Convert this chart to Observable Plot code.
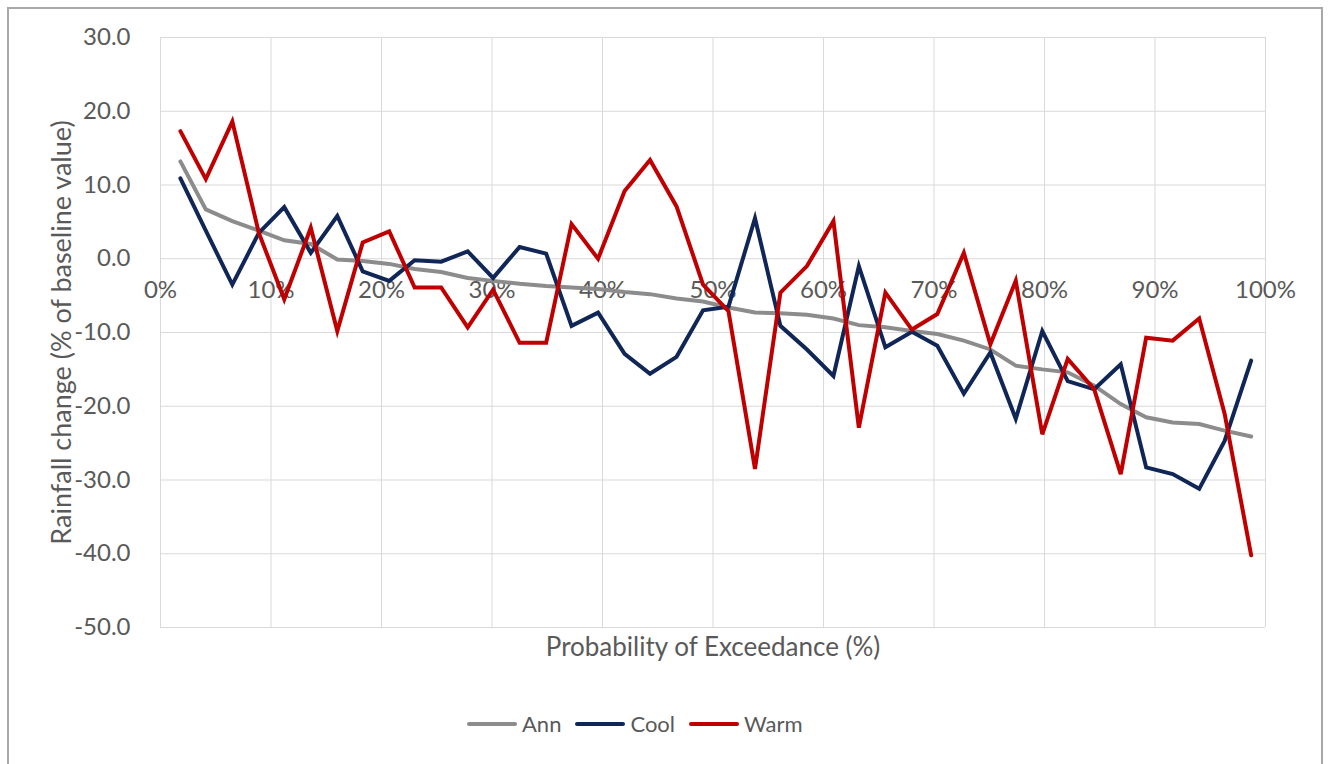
<!DOCTYPE html>
<html>
<head>
<meta charset="utf-8">
<script src="https://cdn.jsdelivr.net/npm/d3@7"></script>
<script src="https://cdn.jsdelivr.net/npm/@observablehq/plot@0.6"></script>
<style>
  html, body { margin: 0; padding: 0; background: #fff; }
  body { width: 1332px; height: 764px; overflow: hidden; position: relative; font-family: Lato, "Open Sans", sans-serif; }
  #frame { position: absolute; left: 7px; top: 7px; width: 1316px; height: 820px; border: 2px solid #a8a8a8; box-sizing: border-box; }
  #chart { position: absolute; left: 0; top: 0; }
  #legend { position: absolute; top: 710px; left: 467px; display: flex; gap: 14px; color: #595959; font-size: 22px; }
  .item { display: flex; align-items: center; }
  .sw { width: 50px; height: 4px; border-radius: 2px; margin-right: 5px; }
</style>
</head>
<body>
<div id="frame"></div>
<div id="chart"></div>
<div id="legend"></div>
<script>
// Probability of exceedance (%) for each point
const probability = [1.8, 4.1, 6.5, 8.9, 11.2, 13.6, 16.0, 18.3, 20.7, 23.0, 25.4, 27.8, 30.1, 32.5, 34.9, 37.2, 39.6, 42.0, 44.3, 46.7, 49.1, 51.4, 53.8, 56.1, 58.5, 60.9, 63.2, 65.6, 68.0, 70.3, 72.7, 75.1, 77.4, 79.8, 82.1, 84.5, 86.9, 89.2, 91.6, 94.0, 96.3, 98.7];
// Rainfall change (% of baseline value)
const ann = [13.2, 6.7, 5.1, 3.8, 2.5, 2.0, -0.1, -0.3, -0.7, -1.4, -1.8, -2.6, -3.0, -3.4, -3.7, -3.9, -4.1, -4.5, -4.8, -5.4, -5.8, -6.6, -7.3, -7.4, -7.6, -8.1, -9.0, -9.3, -9.8, -10.2, -11.1, -12.3, -14.5, -15.0, -15.4, -17.2, -19.7, -21.5, -22.2, -22.4, -23.3, -24.1];
const cool = [10.9, 3.8, -3.5, 3.5, 7.0, 0.8, 5.8, -1.7, -3.0, -0.2, -0.4, 1.0, -2.6, 1.6, 0.7, -9.1, -7.3, -12.9, -15.6, -13.3, -7.0, -6.5, 5.5, -9.1, -12.3, -15.9, -1.0, -12.0, -9.9, -11.8, -18.3, -12.7, -21.7, -9.8, -16.6, -17.7, -14.3, -28.3, -29.2, -31.2, -24.7, -13.8];
const warm = [17.3, 10.8, 18.6, 3.5, -5.5, 4.2, -9.8, 2.2, 3.7, -3.9, -3.9, -9.3, -4.2, -11.4, -11.4, 4.7, 0.0, 9.2, 13.4, 7.1, -3.5, -7.1, -28.5, -4.6, -1.0, 5.1, -22.9, -4.6, -9.6, -7.5, 0.8, -11.6, -3.0, -23.8, -13.6, -17.7, -29.2, -10.7, -11.1, -8.1, -21.0, -40.2];

const seriesNames = ["Ann", "Cool", "Warm"];
const seriesColors = ["#8c8c8c", "#0f2657", "#c00000"];
const xTicks = [0, 10, 20, 30, 40, 50, 60, 70, 80, 90, 100];
const yTicks = [-50, -40, -30, -20, -10, 0, 10, 20, 30];
const xTitle = "Probability of Exceedance (%)";
const yTitle = "Rainfall change (% of baseline value)";

const valuesBySeries = [ann, cool, warm];
const data = [];
seriesNames.forEach((s, i) => {
  valuesBySeries[i].forEach((v, j) => data.push({series: s, p: probability[j], v}));
});

const grid = "#d9d9d9";
const textColor = "#595959";

const chart = Plot.plot({
  width: 1332,
  height: 680,
  marginLeft: 160,
  marginRight: 67,
  marginTop: 37,
  marginBottom: 53,
  style: {fontFamily: "Lato, 'Open Sans', sans-serif", background: "transparent"},
  x: {domain: [0, 100], axis: null},
  y: {domain: [-50, 30], axis: null},
  color: {domain: seriesNames, range: seriesColors},
  marks: [
    Plot.gridX(xTicks, {stroke: grid, strokeOpacity: 1, strokeWidth: 1}),
    Plot.gridY(yTicks, {stroke: grid, strokeOpacity: 1, strokeWidth: 1}),
    Plot.axisY(yTicks, {tickSize: 0, tickPadding: 30, tickFormat: d => d.toFixed(1), fontSize: 24, fill: textColor, label: null}),
    Plot.text(xTicks, {x: d => d, y: () => 0, text: d => d + "%", dy: 32, fontSize: 24, fill: textColor}),
    Plot.text([yTitle], {frameAnchor: "left", textAnchor: "middle", rotate: -90, dx: -98, fontSize: 27, fill: textColor}),
    Plot.text([xTitle], {frameAnchor: "bottom", textAnchor: "middle", dy: 28, fontSize: 26, fill: textColor}),
    Plot.line(data, {x: "p", y: "v", z: "series", stroke: "series", strokeWidth: 4, strokeLinejoin: "miter", strokeMiterlimit: 4})
  ]
});
document.getElementById("chart").appendChild(chart);

const legend = document.getElementById("legend");
seriesNames.forEach((s, i) => {
  const item = document.createElement("div");
  item.className = "item";
  const sw = document.createElement("div");
  sw.className = "sw";
  sw.style.background = seriesColors[i];
  const label = document.createElement("span");
  label.textContent = s;
  item.appendChild(sw);
  item.appendChild(label);
  legend.appendChild(item);
});
</script>
</body>
</html>
